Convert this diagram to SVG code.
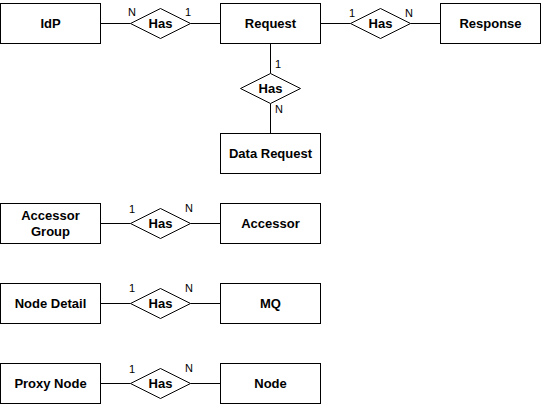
<svg xmlns="http://www.w3.org/2000/svg" width="541" height="404" viewBox="0 0 541 404">
<style>
.box{fill:#fff;stroke:#000;stroke-width:1}
.rel{fill:#fff;stroke:#000;stroke-width:1}
.t{font-family:"Liberation Sans",Arial,sans-serif;font-size:13px;font-weight:bold;fill:#000;text-anchor:middle;dominant-baseline:central}
.c{font-family:"Liberation Sans",Arial,sans-serif;font-size:11px;fill:#000;text-anchor:middle}
.ln{stroke:#000;stroke-width:1;fill:none}
</style>
<rect width="541" height="404" fill="#fff"/>
<g id="connectors">
<path class="ln" d="M100.5 23.5H130.5M190.5 23.5H220.5M320.5 23.5H350.5M410.5 23.5H440.5M270.5 43.5V73.5M270.5 103.5V133.5M100.5 223.5H130.5M190.5 223.5H220.5M100.5 303.5H130.5M190.5 303.5H220.5M100.5 383.5H130.5M190.5 383.5H220.5"/>
<text class="c" x="132" y="16">N</text>
<text class="c" x="188" y="16">1</text>
<text class="c" x="352" y="17">1</text>
<text class="c" x="409" y="16.5">N</text>
<text class="c" x="278" y="68">1</text>
<text class="c" x="279" y="113">N</text>
<text class="c" x="132" y="213">1</text>
<text class="c" x="189" y="212">N</text>
<text class="c" x="132" y="292">1</text>
<text class="c" x="189" y="292">N</text>
<text class="c" x="132" y="372.5">1</text>
<text class="c" x="189" y="372">N</text>
</g>
<g id="idp"><rect class="box" x="0.5" y="3.5" width="100" height="40"/><text class="t" x="50.5" y="23.5">IdP</text></g>
<g id="has1"><polygon class="rel" points="130.5,23.5 160.5,8.5 190.5,23.5 160.5,38.5"/><text class="t" x="160.5" y="23.5">Has</text></g>
<g id="request"><rect class="box" x="220.5" y="3.5" width="100" height="40"/><text class="t" x="270.5" y="23.5">Request</text></g>
<g id="has2"><polygon class="rel" points="350.5,23.5 380.5,8.5 410.5,23.5 380.5,38.5"/><text class="t" x="380.5" y="23.5">Has</text></g>
<g id="response"><rect class="box" x="440.5" y="3.5" width="100" height="40"/><text class="t" x="490.5" y="23.5">Response</text></g>
<g id="has3"><polygon class="rel" points="240.5,88.5 270.5,73.5 300.5,88.5 270.5,103.5"/><text class="t" x="270.5" y="88.5">Has</text></g>
<g id="datarequest"><rect class="box" x="220.5" y="133.5" width="100" height="40"/><text class="t" x="270.5" y="153.5">Data Request</text></g>
<g id="accessorgroup"><rect class="box" x="0.5" y="203.5" width="100" height="40"/><text class="t" x="50.5" y="215.5">Accessor</text><text class="t" x="50.5" y="231.5">Group</text></g>
<g id="has4"><polygon class="rel" points="130.5,223.5 160.5,208.5 190.5,223.5 160.5,238.5"/><text class="t" x="160.5" y="223.5">Has</text></g>
<g id="accessor"><rect class="box" x="220.5" y="203.5" width="100" height="40"/><text class="t" x="270.5" y="223.5">Accessor</text></g>
<g id="nodedetail"><rect class="box" x="0.5" y="283.5" width="100" height="40"/><text class="t" x="50.5" y="303.5">Node Detail</text></g>
<g id="has5"><polygon class="rel" points="130.5,303.5 160.5,288.5 190.5,303.5 160.5,318.5"/><text class="t" x="160.5" y="303.5">Has</text></g>
<g id="mq"><rect class="box" x="220.5" y="283.5" width="100" height="40"/><text class="t" x="270.5" y="303.5">MQ</text></g>
<g id="proxynode"><rect class="box" x="0.5" y="363.5" width="100" height="40"/><text class="t" x="50.5" y="383.5">Proxy Node</text></g>
<g id="has6"><polygon class="rel" points="130.5,383.5 160.5,368.5 190.5,383.5 160.5,398.5"/><text class="t" x="160.5" y="383.5">Has</text></g>
<g id="node"><rect class="box" x="220.5" y="363.5" width="100" height="40"/><text class="t" x="270.5" y="383.5">Node</text></g>
</svg>
